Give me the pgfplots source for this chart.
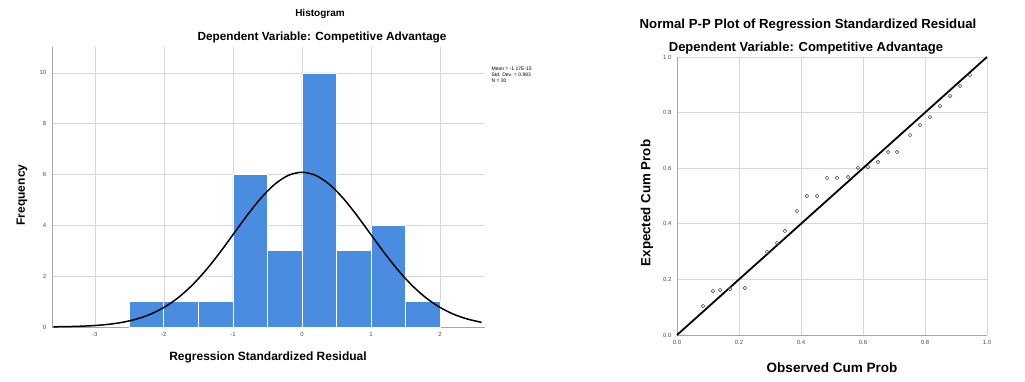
\documentclass[border=0pt]{standalone}
\usepackage{pgfplots}
\pgfplotsset{compat=1.18}
\usepackage{fontspec}
\setmainfont{Liberation Sans}
\definecolor{barblue}{RGB}{74,140,224}
\definecolor{gridc}{RGB}{215,215,215}
\begin{document}
\begin{tikzpicture}[x=1pt,y=1pt]
\useasboundingbox (0,0) rectangle (1025,382);
% ---------------- Histogram ----------------
\begin{axis}[at={(52pt,55pt)}, anchor=south west, scale only axis,
  width=433pt, height=280pt,
  xmin=-3.62, xmax=2.65, ymin=0, ymax=11.02,
  axis lines=left, axis line style={gray!70, -},
  xtick={-3,-2,-1,0,1,2}, ytick={0,2,4,6,8,10},
  grid=major, grid style={gridc, line width=0.6pt},
  tick style={draw=none},
  ticklabel style={font=\fontsize{6}{7}\selectfont, text=black!70},
  /pgf/number format/assume math mode=true,
  clip=false]
\addplot[ybar interval, fill=barblue, draw=white, line width=0.8pt]
  coordinates {(-2.5,1) (-2,1) (-1.5,1) (-1,6) (-0.5,3) (0,10) (0.5,3) (1,4) (1.5,1) (2,1)};
\addplot[black, line width=1.5pt, smooth] coordinates {
(-3.6,0.0075) (-3.4,0.0154) (-3.2,0.0304) (-3.0,0.0579) (-2.8,0.1054) (-2.6,0.1843)
(-2.4,0.3093) (-2.2,0.4977) (-2.0,0.7686) (-1.8,1.139) (-1.6,1.619) (-1.4,2.209)
(-1.2,2.891) (-1.0,3.630) (-0.8,4.373) (-0.6,5.055) (-0.4,5.606) (-0.2,5.965)
(0,6.09) (0.2,5.965) (0.4,5.606) (0.6,5.055) (0.8,4.373) (1.0,3.630) (1.2,2.891)
(1.4,2.209) (1.6,1.619) (1.8,1.139) (2.0,0.7686) (2.2,0.4977) (2.4,0.3093) (2.6,0.1843)};
\end{axis}
\node[font=\fontsize{10}{12}\selectfont\bfseries] at (320,368) {Histogram};
\node[font=\fontsize{11.8}{14}\selectfont\bfseries] at (322,345) {Dependent Variable: Competitive Advantage};
\node[font=\fontsize{12}{14}\selectfont\bfseries] at (268,25) {Regression Standardized Residual};
\node[font=\fontsize{12}{14}\selectfont\bfseries, rotate=90] at (22,187) {Frequency};
\node[font=\fontsize{5}{6}\selectfont, align=left, anchor=north west] at (488,318)
  {Mean = -1.17E-15\\Std. Dev. = 0.983\\N = 30};
% ---------------- P-P plot ----------------
\begin{axis}[at={(677pt,47pt)}, anchor=south west, scale only axis,
  width=310pt, height=278pt,
  xmin=0, xmax=1, ymin=0, ymax=1,
  axis lines=left, axis line style={gray!70, -},
  xtick={0,0.2,0.4,0.6,0.8,1}, ytick={0,0.2,0.4,0.6,0.8,1},
  xticklabel style={/pgf/number format/.cd, fixed, fixed zerofill, precision=1},
  yticklabel style={/pgf/number format/.cd, fixed, fixed zerofill, precision=1},
  grid=major, grid style={gridc, line width=0.6pt},
  tick style={draw=none},
  ticklabel style={font=\fontsize{6}{7}\selectfont, text=black!70},
  /pgf/number format/assume math mode=true,
  clip=false]
\addplot[black, line width=1.8pt] coordinates {(0,0) (1,1)};
\addplot[only marks, mark=o, mark size=1.8pt, draw=black!65, line width=0.6pt] coordinates {
(0.084,0.104) (0.116,0.158) (0.139,0.162) (0.171,0.165) (0.219,0.169)
(0.290,0.299) (0.323,0.331) (0.348,0.374) (0.387,0.446) (0.419,0.500)
(0.452,0.500) (0.484,0.565) (0.516,0.565) (0.552,0.568) (0.584,0.601)
(0.616,0.604) (0.648,0.622) (0.681,0.658) (0.710,0.658) (0.752,0.719)
(0.784,0.755) (0.816,0.784) (0.848,0.824) (0.881,0.860) (0.913,0.896)
(0.945,0.935)};
\end{axis}
\node[font=\fontsize{13.2}{15}\selectfont\bfseries] at (808,357) {Normal P-P Plot of Regression Standardized Residual};
\node[font=\fontsize{13}{15}\selectfont\bfseries] at (806,334) {Dependent Variable: Competitive Advantage};
\node[font=\fontsize{13.5}{15}\selectfont\bfseries] at (832,14) {Observed Cum Prob};
\node[font=\fontsize{13.3}{15}\selectfont\bfseries, rotate=90] at (647,179) {Expected Cum Prob};
\end{tikzpicture}
\end{document}
